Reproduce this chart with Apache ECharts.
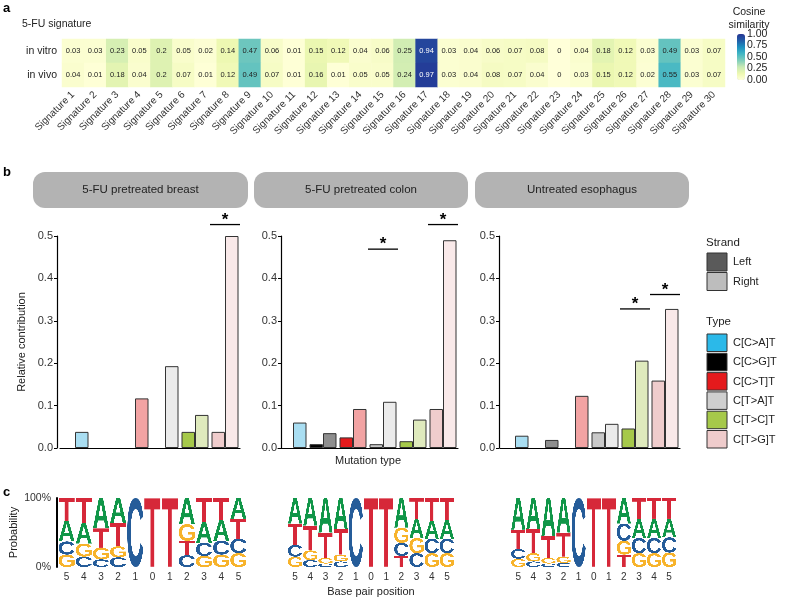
<!DOCTYPE html>
<html>
<head>
<meta charset="utf-8">
<script src="https://cdn.jsdelivr.net/npm/echarts@6/dist/echarts.min.js"></script>
<style>
  html, body { margin: 0; padding: 0; background: #fff; }
  #chart { width: 788px; height: 599px; }
</style>
</head>
<body>
<div id="chart"></div>
<script>
/* 5-FU 图：热图 + 链偏好柱状图 + 序列 logo */
const FONT = '"Liberation Sans", Arial, sans-serif';

// a: 余弦相似度
const sigNames = Array.from({ length: 30 }, (_, i) => 'Signature ' + (i + 1));
const sampleRows = ['in vitro', 'in vivo'];
const inVitro = [0.03, 0.03, 0.23, 0.05, 0.2, 0.05, 0.02, 0.14, 0.47, 0.06, 0.01, 0.15, 0.12, 0.04, 0.06,
  0.25, 0.94, 0.03, 0.04, 0.06, 0.07, 0.08, 0, 0.04, 0.18, 0.12, 0.03, 0.49, 0.03, 0.07];
const inVivo = [0.04, 0.01, 0.18, 0.04, 0.2, 0.07, 0.01, 0.12, 0.49, 0.07, 0.01, 0.16, 0.01, 0.05, 0.05,
  0.24, 0.97, 0.03, 0.04, 0.08, 0.07, 0.04, 0, 0.03, 0.15, 0.12, 0.02, 0.55, 0.03, 0.07];
const cosineColors = ['#ffffd9', '#edf8b1', '#c7e9b4', '#7fcdbb', '#41b6c4', '#1d91c0', '#225ea8', '#253494'];

// b: 突变类型，左右链
const mutTypes = ['C[C>A]T', 'C[C>G]T', 'C[C>T]T', 'C[T>A]T', 'C[T>C]T', 'C[T>G]T'];
const typeColors = ['#2bb9e9', '#000000', '#e41a1c', '#cfcfcf', '#a6c94a', '#efcccc'];
const leftColors = ['#2bb9e9', '#000000', '#e41a1c', '#c9c9c9', '#a6c94a', '#efcccc'];
const rightColors = ['#a9def2', '#8e8e8e', '#f2a3a3', '#ebebeb', '#dfeabd', '#f9e9e9'];
const strandNames = ['Left', 'Right'];
const strandColors = ['#5a5a5a', '#bdbdbd'];
const panelTitles = ['5-FU pretreated breast', '5-FU pretreated colon', 'Untreated esophagus'];
const breastLeft = [0, 0, 0, 0, 0.038, 0.038];
const breastRight = [0.038, 0, 0.117, 0.193, 0.078, 0.5];
const colonLeft = [0, 0.009, 0.025, 0.009, 0.016, 0.092];
const colonRight = [0.06, 0.035, 0.092, 0.109, 0.067, 0.49];
const esoLeft = [0, 0, 0, 0.037, 0.046, 0.159];
const esoRight = [0.029, 0.019, 0.123, 0.057, 0.206, 0.328];
// 显著性标记：[类型序号, 高度]
const breastSig = [[5, 0.527]];
const colonSig = [[3, 0.469], [5, 0.527]];
const esoSig = [[4, 0.328], [5, 0.362]];

// c: 序列 logo，每个位置 [A, C, G, T]
const bpLabels = ['5', '4', '3', '2', '1', '0', '1', '2', '3', '4', '5'];
const bases = ['A', 'C', 'G', 'T'];
const baseColors = { A: '#109648', C: '#255c99', G: '#f7b32b', T: '#d62839' };
const logoBreast = [
  [0.30, 0.19, 0.18, 0.33], [0.30, 0.15, 0.19, 0.36], [0.44, 0.11, 0.17, 0.28], [0.36, 0.14, 0.16, 0.34],
  [0, 1, 0, 0], [0, 0, 0, 1], [0, 0, 0, 1],
  [0.38, 0.17, 0.24, 0.21], [0.30, 0.19, 0.16, 0.35], [0.30, 0.20, 0.18, 0.32], [0.30, 0.21, 0.20, 0.29]
];
const logoColon = [
  [0.37, 0.17, 0.15, 0.31], [0.40, 0.10, 0.14, 0.36], [0.50, 0.05, 0.08, 0.37], [0.45, 0.08, 0.10, 0.37],
  [0, 1, 0, 0], [0, 0, 0, 1], [0, 0, 0, 1],
  [0.43, 0.19, 0.22, 0.16], [0.27, 0.20, 0.22, 0.31], [0.26, 0.21, 0.20, 0.33], [0.27, 0.21, 0.20, 0.32]
];
const logoEso = [
  [0.46, 0.14, 0.12, 0.28], [0.45, 0.08, 0.12, 0.35], [0.55, 0.05, 0.08, 0.32], [0.50, 0.06, 0.09, 0.35],
  [0, 1, 0, 0], [0, 0, 0, 1], [0, 0, 0, 1],
  [0.37, 0.25, 0.20, 0.18], [0.27, 0.22, 0.20, 0.31], [0.28, 0.22, 0.20, 0.30], [0.27, 0.22, 0.21, 0.30]
];

// 字母图像缓存（按字形包围盒裁切）
const glyphCache = {};
function glyph(letter) {
  if (glyphCache[letter]) return glyphCache[letter];
  const font = 'bold 200px ' + FONT;
  const c = document.createElement('canvas');
  let ctx = c.getContext('2d');
  ctx.font = font;
  const m = ctx.measureText(letter);
  const l = Math.ceil(m.actualBoundingBoxLeft);
  const r = Math.ceil(m.actualBoundingBoxRight);
  const a = Math.ceil(m.actualBoundingBoxAscent);
  const d = Math.ceil(m.actualBoundingBoxDescent);
  c.width = l + r;
  c.height = a + d;
  ctx = c.getContext('2d');
  ctx.font = font;
  ctx.fillStyle = baseColors[letter];
  ctx.fillText(letter, l, a);
  glyphCache[letter] = c;
  return c;
}

function renderLogo(params, api) {
  const idx = api.value(0);
  const stack = bases.map((b, k) => ({ b, p: api.value(k + 1) }))
    .filter(o => o.p > 0)
    .sort((u, v) => u.p - v.p);
  const w = api.size([1, 0])[0] * 0.94;
  let acc = 0;
  const children = stack.map(o => {
    const bot = api.coord([idx, acc]);
    const top = api.coord([idx, acc + o.p]);
    acc += o.p;
    return {
      type: 'image',
      style: { image: glyph(o.b), x: bot[0] - w / 2, y: top[1], width: w, height: bot[1] - top[1] }
    };
  });
  return { type: 'group', children };
}

function renderSig(params, api) {
  const idx = api.value(0);
  const p = api.coord([idx, api.value(1)]);
  const half = api.size([0.86, 0])[0] / 2;
  return {
    type: 'group',
    children: [
      { type: 'line', shape: { x1: p[0] - half, y1: p[1], x2: p[0] + half, y2: p[1] },
        style: { stroke: '#000', lineWidth: 1.3 } },
      { type: 'text', style: { text: '*', x: p[0], y: p[1] + 4, align: 'center', verticalAlign: 'bottom',
        font: 'bold 17px ' + FONT, fill: '#000' } }
    ]
  };
}

const chart = echarts.init(document.getElementById('chart'));

// 热图数据
const heatData = [];
inVitro.forEach((v, i) => heatData.push({ value: [i, 0, v], label: { color: v > 0.8 ? '#fff' : '#222' } }));
inVivo.forEach((v, i) => heatData.push({ value: [i, 1, v], label: { color: v > 0.8 ? '#fff' : '#222' } }));

// 柱状图面板
const barPanels = [
  { left: breastLeft, right: breastRight, sig: breastSig, gridLeft: 60, offset: 3 },
  { left: colonLeft, right: colonRight, sig: colonSig, gridLeft: 278, offset: -3 },
  { left: esoLeft, right: esoRight, sig: esoSig, gridLeft: 500, offset: 1 }
];
const logoPanels = [
  { data: logoBreast, gridLeft: 58, width: 189 },
  { data: logoColon, gridLeft: 287.5, width: 167 },
  { data: logoEso, gridLeft: 510.7, width: 166 }
];

const grids = [
  { left: 62, top: 39, width: 663, height: 48 },
  { left: 737, top: 34, width: 8, height: 46 }
];
const xAxes = [
  {
    type: 'category', data: sigNames, gridIndex: 0,
    axisLine: { show: false }, axisTick: { show: false },
    axisLabel: { rotate: 45, fontSize: 10, color: '#333', fontFamily: FONT, margin: 6, interval: 0 }
  },
  { type: 'value', gridIndex: 1, show: false }
];
const yAxes = [
  {
    type: 'category', data: sampleRows, gridIndex: 0, inverse: true,
    axisLine: { show: false }, axisTick: { show: false },
    axisLabel: { fontSize: 10.5, color: '#222', fontFamily: FONT, margin: 5 }
  },
  {
    type: 'value', gridIndex: 1, min: 0, max: 1, interval: 0.25, position: 'right',
    axisLine: { show: false }, splitLine: { show: false },
    axisTick: { show: true, inside: true, length: 2, lineStyle: { color: '#fff' } },
    axisLabel: { formatter: v => v.toFixed(2), fontSize: 10.5, color: '#222', fontFamily: FONT, margin: 2 }
  }
];
const series = [
  {
    type: 'heatmap', xAxisIndex: 0, yAxisIndex: 0, data: heatData,
    label: { show: true, fontSize: 7.5, fontFamily: FONT, formatter: p => String(p.value[2]) }
  }
];

barPanels.forEach((panel, k) => {
  const gi = grids.length;
  grids.push({ left: panel.gridLeft, top: 236, width: 180, height: 212 });
  xAxes.push({
    type: 'category', data: mutTypes, gridIndex: gi,
    axisLine: { lineStyle: { color: '#000', width: 1.2 } },
    axisTick: { show: false }, axisLabel: { show: false },
    name: k === 1 ? 'Mutation type' : '', nameLocation: 'middle', nameGap: 7,
    nameTextStyle: { fontSize: 11, color: '#222', fontFamily: FONT }
  });
  yAxes.push({
    type: 'value', gridIndex: gi, min: 0, max: 0.5, interval: 0.1, offset: panel.offset,
    axisLine: { show: true, lineStyle: { color: '#000', width: 1.2 } },
    axisTick: { show: true, length: 3, lineStyle: { color: '#000' } },
    splitLine: { show: false },
    axisLabel: { formatter: v => v.toFixed(1), fontSize: 11, color: '#333', fontFamily: FONT, margin: 4 },
    name: k === 0 ? 'Relative contribution' : '', nameLocation: 'middle', nameGap: 30,
    nameTextStyle: { fontSize: 11, color: '#222', fontFamily: FONT }
  });
  const bar = (vals, colors, name) => ({
    type: 'bar', name, xAxisIndex: gi, yAxisIndex: gi, barWidth: 13.5, barGap: '0%',
    data: vals.map((v, i) => v > 0 ? { value: v, itemStyle: { color: colors[i] } } : '-'),
    itemStyle: { borderColor: '#333', borderWidth: 1 }
  });
  series.push(bar(panel.left, leftColors, 'Left'));
  series.push(bar(panel.right, rightColors, 'Right'));
  series.push({
    type: 'custom', xAxisIndex: gi, yAxisIndex: gi, data: panel.sig, renderItem: renderSig, clip: false, z: 5
  });
});

logoPanels.forEach((panel, k) => {
  const gi = grids.length;
  grids.push({ left: panel.gridLeft, top: 498, width: panel.width, height: 69 });
  xAxes.push({
    type: 'category', data: bpLabels, gridIndex: gi,
    axisLine: { show: false }, axisTick: { show: false },
    axisLabel: { fontSize: 10, color: '#333', fontFamily: FONT, margin: 5, interval: 0 },
    name: k === 1 ? 'Base pair position' : '', nameLocation: 'middle', nameGap: 19,
    nameTextStyle: { fontSize: 11, color: '#222', fontFamily: FONT }
  });
  yAxes.push({
    type: 'value', gridIndex: gi, min: 0, max: 1, interval: 1, show: k === 0, offset: 1,
    axisLine: { show: true, lineStyle: { color: '#000', width: 2 } },
    axisTick: { show: false }, splitLine: { show: false },
    axisLabel: { formatter: v => (v * 100) + '%', fontSize: 10.5, color: '#333', fontFamily: FONT, margin: 6 },
    name: 'Probability', nameLocation: 'middle', nameGap: 38,
    nameTextStyle: { fontSize: 11, color: '#222', fontFamily: FONT }
  });
  series.push({
    type: 'custom', xAxisIndex: gi, yAxisIndex: gi, renderItem: renderLogo,
    encode: { x: 0, y: 1 },
    data: panel.data.map((row, i) => [i].concat(row))
  });
});

// 图注与条带
const graphics = [
  { type: 'text', style: { text: 'a', x: 3, y: 8, font: 'bold 13px ' + FONT, fill: '#000', verticalAlign: 'middle' } },
  { type: 'text', style: { text: 'b', x: 3, y: 172, font: 'bold 13px ' + FONT, fill: '#000', verticalAlign: 'middle' } },
  { type: 'text', style: { text: 'c', x: 3, y: 492, font: 'bold 13px ' + FONT, fill: '#000', verticalAlign: 'middle' } },
  { type: 'text', style: { text: '5-FU signature', x: 22, y: 24, font: '10.5px ' + FONT, fill: '#222', verticalAlign: 'middle' } },
  { type: 'text', style: { text: 'Cosine', x: 749, y: 12, font: '10.5px ' + FONT, fill: '#222', align: 'center', verticalAlign: 'middle' } },
  { type: 'text', style: { text: 'similarity', x: 749, y: 25, font: '10.5px ' + FONT, fill: '#222', align: 'center', verticalAlign: 'middle' } },
  { type: 'text', style: { text: 'Strand', x: 706, y: 243, font: '11.5px ' + FONT, fill: '#222', verticalAlign: 'middle' } },
  { type: 'text', style: { text: 'Type', x: 706, y: 322, font: '11.5px ' + FONT, fill: '#222', verticalAlign: 'middle' } }
];
const stripX = [[33, 248], [254, 468], [475, 689]];
panelTitles.forEach((t, k) => {
  const [x0, x1] = stripX[k];
  graphics.push({ type: 'rect', shape: { x: x0, y: 172, width: x1 - x0, height: 36, r: 12 }, style: { fill: '#b3b3b3' } });
  graphics.push({ type: 'text', style: { text: t, x: (x0 + x1) / 2, y: 190, font: '11.5px ' + FONT, fill: '#222', align: 'center', verticalAlign: 'middle' } });
});
strandNames.forEach((s, k) => {
  graphics.push({ type: 'rect', shape: { x: 707, y: 253 + k * 19.5, width: 20, height: 18 }, style: { fill: strandColors[k], stroke: '#333', lineWidth: 1 } });
  graphics.push({ type: 'text', style: { text: s, x: 733, y: 262 + k * 19.5, font: '11px ' + FONT, fill: '#222', verticalAlign: 'middle' } });
});
mutTypes.forEach((s, k) => {
  graphics.push({ type: 'rect', shape: { x: 707, y: 334 + k * 19.3, width: 20, height: 17.5 }, style: { fill: typeColors[k], stroke: '#333', lineWidth: 1 } });
  graphics.push({ type: 'text', style: { text: s, x: 733, y: 343 + k * 19.3, font: '11px ' + FONT, fill: '#222', verticalAlign: 'middle' } });
});

chart.setOption({
  animation: false,
  backgroundColor: '#fff',
  textStyle: { fontFamily: FONT },
  grid: grids,
  xAxis: xAxes,
  yAxis: yAxes,
  visualMap: {
    type: 'continuous', min: 0, max: 1, seriesIndex: 0, calculable: false,
    itemWidth: 8, itemHeight: 46, left: 737, top: 34, padding: 0,
    text: null, showLabel: false, inRange: { color: cosineColors }
  },
  series,
  graphic: graphics
});
</script>
</body>
</html>
